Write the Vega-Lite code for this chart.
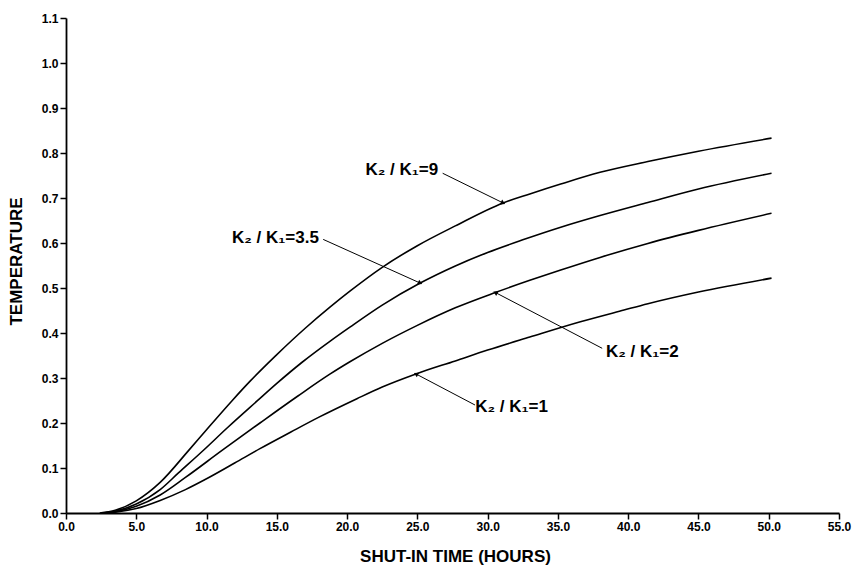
{
  "$schema": "https://vega.github.io/schema/vega-lite/v6.json",
  "width": 773,
  "height": 495,
  "autosize": "none",
  "padding": {"left": 66, "top": 18, "right": 15, "bottom": 56},
  "background": "white",
  "config": {
    "view": {"stroke": null},
    "font": "Liberation Sans",
    "axis": {
      "grid": false,
      "domainColor": "black",
      "tickColor": "black",
      "labelColor": "black",
      "titleColor": "black",
      "labelFont": "Liberation Sans",
      "labelFontWeight": "bold",
      "labelFontSize": 12,
      "titleFont": "Liberation Sans",
      "titleFontWeight": "bold",
      "titleFontSize": 17,
      "domainWidth": 1.8,
      "tickWidth": 1.5,
      "tickSize": 6
    }
  },
  "datasets": {
    "curves": [
      {"series": "9", "t": 2.4, "v": 0.0},
      {"series": "9", "t": 3.5, "v": 0.006},
      {"series": "9", "t": 5.0, "v": 0.027},
      {"series": "9", "t": 6.7, "v": 0.068},
      {"series": "9", "t": 8.7, "v": 0.138},
      {"series": "9", "t": 10.0, "v": 0.185},
      {"series": "9", "t": 11.8, "v": 0.249},
      {"series": "9", "t": 13.1, "v": 0.293},
      {"series": "9", "t": 15.0, "v": 0.352},
      {"series": "9", "t": 17.0, "v": 0.41},
      {"series": "9", "t": 18.8, "v": 0.458},
      {"series": "9", "t": 20.2, "v": 0.493},
      {"series": "9", "t": 22.5, "v": 0.546},
      {"series": "9", "t": 25.0, "v": 0.594},
      {"series": "9", "t": 27.7, "v": 0.638},
      {"series": "9", "t": 31.1, "v": 0.689},
      {"series": "9", "t": 33.0, "v": 0.709},
      {"series": "9", "t": 35.2, "v": 0.731},
      {"series": "9", "t": 38.0, "v": 0.757},
      {"series": "9", "t": 41.4, "v": 0.781},
      {"series": "9", "t": 45.0, "v": 0.804},
      {"series": "9", "t": 50.2, "v": 0.833},
      {"series": "3.5", "t": 2.5, "v": 0.0},
      {"series": "3.5", "t": 3.5, "v": 0.004},
      {"series": "3.5", "t": 5.0, "v": 0.02},
      {"series": "3.5", "t": 6.7, "v": 0.052},
      {"series": "3.5", "t": 8.0, "v": 0.089},
      {"series": "3.5", "t": 9.8, "v": 0.14},
      {"series": "3.5", "t": 11.5, "v": 0.19},
      {"series": "3.5", "t": 13.6, "v": 0.249},
      {"series": "3.5", "t": 15.0, "v": 0.288},
      {"series": "3.5", "t": 16.8, "v": 0.335},
      {"series": "3.5", "t": 18.8, "v": 0.382},
      {"series": "3.5", "t": 20.2, "v": 0.413},
      {"series": "3.5", "t": 22.5, "v": 0.462},
      {"series": "3.5", "t": 25.2, "v": 0.511},
      {"series": "3.5", "t": 27.7, "v": 0.549},
      {"series": "3.5", "t": 30.0, "v": 0.579},
      {"series": "3.5", "t": 32.5, "v": 0.607},
      {"series": "3.5", "t": 35.2, "v": 0.635},
      {"series": "3.5", "t": 38.0, "v": 0.661},
      {"series": "3.5", "t": 41.4, "v": 0.69},
      {"series": "3.5", "t": 45.0, "v": 0.72},
      {"series": "3.5", "t": 50.2, "v": 0.755},
      {"series": "2", "t": 2.6, "v": 0.0},
      {"series": "2", "t": 3.5, "v": 0.003},
      {"series": "2", "t": 5.0, "v": 0.015},
      {"series": "2", "t": 6.7, "v": 0.04},
      {"series": "2", "t": 8.5, "v": 0.079},
      {"series": "2", "t": 11.1, "v": 0.139},
      {"series": "2", "t": 13.8, "v": 0.2},
      {"series": "2", "t": 16.5, "v": 0.26},
      {"series": "2", "t": 18.8, "v": 0.309},
      {"series": "2", "t": 20.2, "v": 0.336},
      {"series": "2", "t": 22.5, "v": 0.377},
      {"series": "2", "t": 25.0, "v": 0.417},
      {"series": "2", "t": 27.7, "v": 0.456},
      {"series": "2", "t": 30.55, "v": 0.49},
      {"series": "2", "t": 33.0, "v": 0.517},
      {"series": "2", "t": 35.2, "v": 0.54},
      {"series": "2", "t": 38.0, "v": 0.568},
      {"series": "2", "t": 41.4, "v": 0.599},
      {"series": "2", "t": 45.0, "v": 0.628},
      {"series": "2", "t": 50.2, "v": 0.666},
      {"series": "1", "t": 2.7, "v": 0.0},
      {"series": "1", "t": 3.5, "v": 0.002},
      {"series": "1", "t": 5.0, "v": 0.01},
      {"series": "1", "t": 6.7, "v": 0.028},
      {"series": "1", "t": 8.5, "v": 0.052},
      {"series": "1", "t": 10.0, "v": 0.076},
      {"series": "1", "t": 12.0, "v": 0.111},
      {"series": "1", "t": 13.8, "v": 0.143},
      {"series": "1", "t": 16.0, "v": 0.18},
      {"series": "1", "t": 18.0, "v": 0.213},
      {"series": "1", "t": 20.7, "v": 0.254},
      {"series": "1", "t": 22.5, "v": 0.28},
      {"series": "1", "t": 24.9, "v": 0.309},
      {"series": "1", "t": 27.7, "v": 0.338},
      {"series": "1", "t": 30.0, "v": 0.362},
      {"series": "1", "t": 33.0, "v": 0.391},
      {"series": "1", "t": 36.6, "v": 0.425},
      {"series": "1", "t": 39.7, "v": 0.451},
      {"series": "1", "t": 41.4, "v": 0.465},
      {"series": "1", "t": 45.0, "v": 0.491},
      {"series": "1", "t": 50.2, "v": 0.522}
    ],
    "arrows": [
      {"series": "9", "dir": "down", "t0": 26.8, "v0": 0.755, "t": 31.1, "v": 0.689},
      {"series": "3.5", "dir": "down", "t0": 18.3, "v0": 0.608, "t": 25.2, "v": 0.511},
      {"series": "2", "dir": "up", "t0": 38.15, "v0": 0.366, "t": 30.55, "v": 0.49},
      {"series": "1", "dir": "up", "t0": 29.1, "v0": 0.24, "t": 24.9, "v": 0.309}
    ],
    "labels": [
      {"series": "9", "text": "K₂ / K₁=9", "t": 23.9, "v": 0.762},
      {"series": "3.5", "text": "K₂ / K₁=3.5", "t": 14.9, "v": 0.611},
      {"series": "2", "text": "K₂ / K₁=2", "t": 41.0, "v": 0.358},
      {"series": "1", "text": "K₂ / K₁=1", "t": 31.7, "v": 0.236}
    ]
  },
  "encoding": {
    "x": {
      "field": "t",
      "type": "quantitative",
      "scale": {"domain": [0, 55], "nice": false},
      "axis": {
        "values": [0, 5, 10, 15, 20, 25, 30, 35, 40, 45, 50, 55],
        "format": ".1f",
        "title": "SHUT-IN TIME (HOURS)",
        "labelPadding": 2,
        "labelFlush": false,
        "titleX": 389,
        "titleY": 43,
        "titleAlign": "center",
        "titleBaseline": "middle"
      }
    },
    "y": {
      "field": "v",
      "type": "quantitative",
      "scale": {"domain": [0, 1.1], "nice": false},
      "axis": {
        "values": [0, 0.1, 0.2, 0.3, 0.4, 0.5, 0.6, 0.7, 0.8, 0.9, 1.0, 1.1],
        "format": ".1f",
        "title": "TEMPERATURE",
        "labelPadding": 2,
        "labelFlush": false,
        "titleAngle": -90,
        "titleX": -50,
        "titleY": 243,
        "titleAlign": "center",
        "titleBaseline": "middle"
      }
    }
  },
  "layer": [
    {
      "data": {"name": "curves"},
      "mark": {"type": "line", "color": "black", "strokeWidth": 1.6, "interpolate": "monotone"},
      "encoding": {"detail": {"field": "series"}}
    },
    {
      "data": {"name": "arrows"},
      "mark": {"type": "rule", "color": "black", "strokeWidth": 1},
      "encoding": {
        "x2": {"field": "t0"},
        "y2": {"field": "v0"}
      }
    },
    {
      "data": {"name": "arrows"},
      "transform": [{"filter": "datum.dir === 'down'"}],
      "mark": {"type": "point", "shape": "triangle-up", "filled": true, "color": "black", "opacity": 1, "size": 28, "angle": 115}
    },
    {
      "data": {"name": "arrows"},
      "transform": [{"filter": "datum.dir === 'up'"}],
      "mark": {"type": "point", "shape": "triangle-up", "filled": true, "color": "black", "opacity": 1, "size": 28, "angle": 297}
    },
    {
      "data": {"name": "labels"},
      "mark": {"type": "text", "font": "Liberation Sans, DejaVu Sans", "fontWeight": "bold", "fontSize": 17, "color": "black", "align": "center", "baseline": "middle"},
      "encoding": {"text": {"field": "text"}}
    }
  ]
}
